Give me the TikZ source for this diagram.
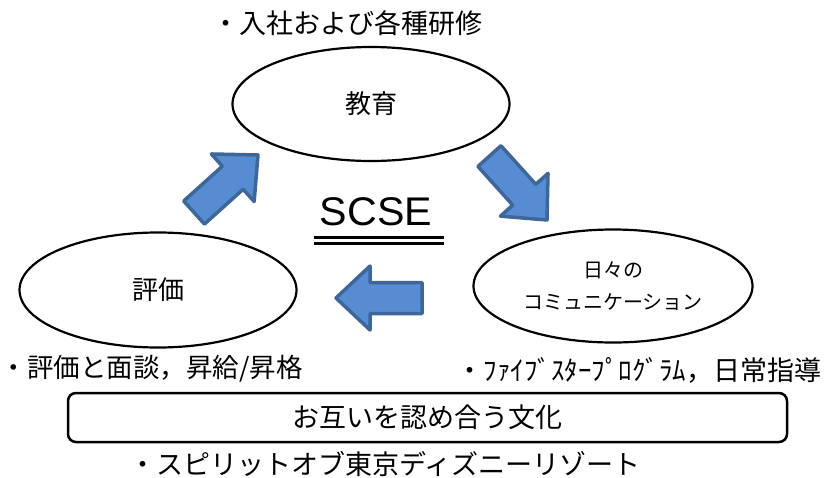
\documentclass[tikz,border=0pt]{standalone}
\usepackage{fontspec}
\usepackage{graphicx}
\setmainfont{Noto Sans CJK JP}
\newfontfamily\scsefont{Liberation Sans}
\usetikzlibrary{shapes.geometric}
\definecolor{arrfill}{RGB}{86,141,210}
\definecolor{arrline}{RGB}{62,102,153}
\tikzset{
  ell/.style={ellipse, draw=black, line width=2.2pt, inner sep=0pt, font=\fontsize{26}{30}\selectfont},
  bullettext/.style={anchor=base west, inner sep=0pt, font=\fontsize{27}{32}\selectfont},
  culturebox/.style={draw=black, line width=2.5pt, rounded corners=8pt, inner sep=0pt, font=\fontsize{27}{32}\selectfont},
  blockarr/.style={fill=arrfill, draw=arrline, line width=3.5pt, line join=round},
  dblline/.style={line width=2.6pt}
}
\newcommand{\myblockarrow}[3]{%
  \begin{scope}[shift={(#1,#2)}, rotate=#3]
    \draw[blockarr] (0,0) -- (-34,32) -- (-34,15.5) -- (-86,15.5) -- (-86,-15.5) -- (-34,-15.5) -- (-34,-32) -- cycle;
  \end{scope}}
\begin{document}
\begin{tikzpicture}[x=1pt,y=-1pt]
\useasboundingbox (0,0) rectangle (827,477);

% ellipses
\node[ell, minimum width=277pt, minimum height=114pt] (edu) at (371,104) {教育};
\node[ell, minimum width=277pt, minimum height=115pt] (eval) at (158,290) {評価};
\node[ell, minimum width=279pt, minimum height=113pt, align=center, font=\fontsize{20}{32}\selectfont] (comm) at (613,286) {日々の\\コミュニケーション};

% block arrows
\myblockarrow{258}{155}{42}
\myblockarrow{547}{220}{-48}
\myblockarrow{336}{298}{180}

% SCSE
\node[anchor=base, inner sep=0pt, font=\scsefont\fontsize{40}{48}\selectfont] (scse) at (376,225) {\scalebox{1.03}[1]{SCSE}};
\coordinate (ul1a) at (314,237.5);
\coordinate (ul1b) at (444,237.5);
\coordinate (ul2a) at (314,243.5);
\coordinate (ul2b) at (444,243.5);
\draw[dblline] (ul1a) -- (ul1b);
\draw[dblline] (ul2a) -- (ul2b);

% bullet texts
\node[bullettext] (t1) at (212,33) {・入社および各種研修};
\node[bullettext, font=\fontsize{26.5}{32}\selectfont] (t2) at (0.5,377.5) {・評価と面談，昇給/昇格};
\node[bullettext] (t3) at (456.5,380.5) {・ﾌｧｲﾌﾞｽﾀｰﾌﾟﾛｸﾞﾗﾑ，日常指導};
\node[bullettext] (t4) at (129,474) {・スピリットオブ東京ディズニーリゾート};

% culture box
\node[culturebox, minimum width=719pt, minimum height=49pt] (culture) at (427.5,417.5) {お互いを認め合う文化};
\end{tikzpicture}
\end{document}
